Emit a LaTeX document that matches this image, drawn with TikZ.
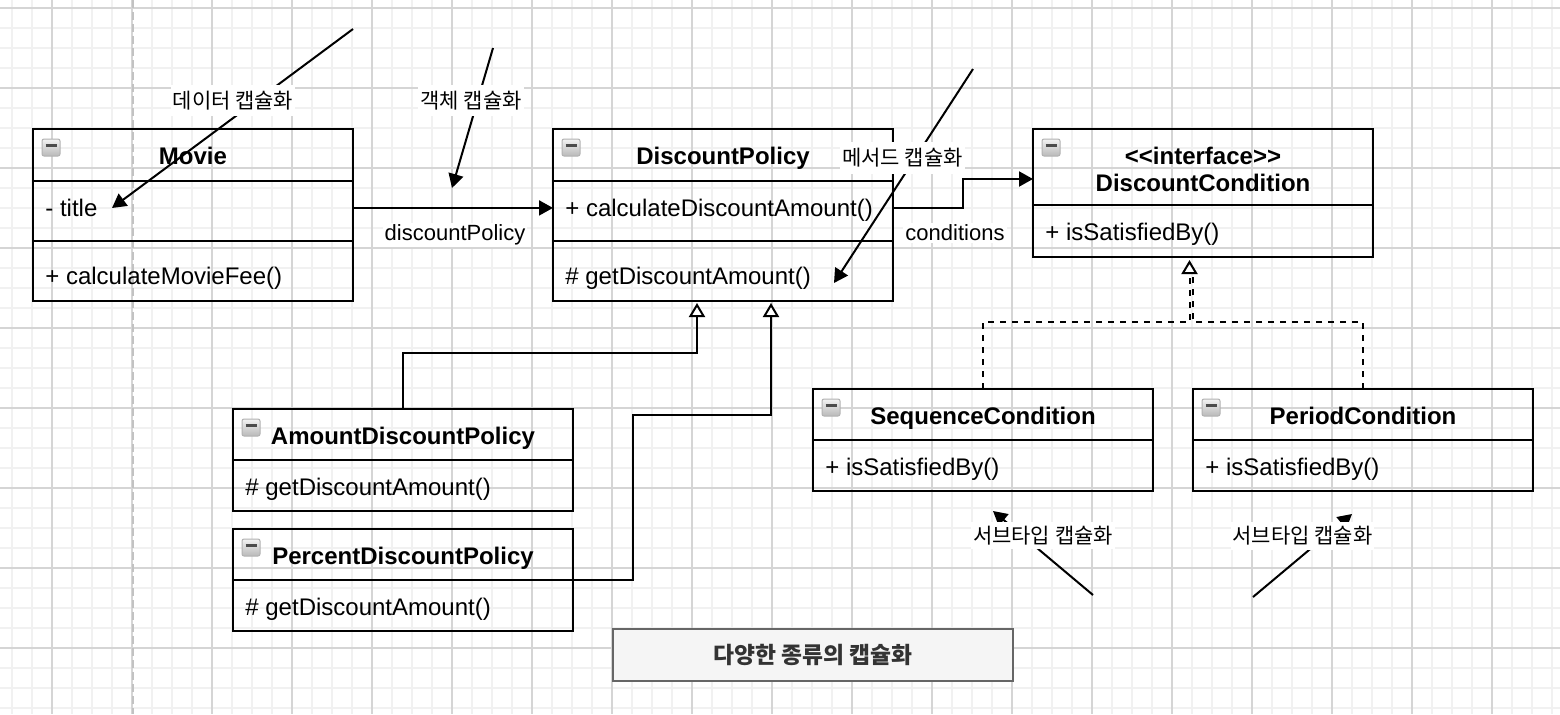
\documentclass[tikz,border=0pt]{standalone}
\usepackage{fontspec}
\setmainfont{Liberation Sans}
\newfontfamily\kr{Noto Sans CJK KR}
\usetikzlibrary{arrows.meta}
\definecolor{gminor}{HTML}{F1F1F1}
\definecolor{gmajor}{HTML}{D5D5D5}
\definecolor{pageline}{HTML}{C2C2C2}
\definecolor{notefill}{HTML}{F5F5F5}
\definecolor{notedraw}{HTML}{666666}
\definecolor{notetext}{HTML}{333333}
\tikzset{
  clsbox/.style={draw=black, line width=1pt, inner sep=0pt, outer sep=0pt, anchor=north west},
  septn/.style={line width=1pt},
  ttl/.style={font=\fontsize{12}{14}\selectfont\bfseries, inner sep=0pt, anchor=base},
  rowtxt/.style={font=\fontsize{12}{14}\selectfont, inner sep=0pt, anchor=base west},
  elbl/.style={font=\fontsize{11}{13}\selectfont, fill=white, inner sep=1pt, anchor=base},
  krlbl/.style={font=\kr\fontsize{10.5}{12}\selectfont, fill=white, inner xsep=1pt, inner ysep=3pt},
  assoc/.style={line width=1pt, -{Triangle[length=7pt,width=7.5pt]}},
  gen/.style={line width=1pt, -{Triangle[open,length=7pt,width=8pt,fill=white]}},
  real/.style={gen, dash pattern=on 3pt off 3pt},
  realplain/.style={line width=1pt, dash pattern=on 3pt off 3pt},
  clsicon/.pic={
    \shade[top color=gray!10, bottom color=gray!55, draw=gray!60, line width=0.5pt, rounded corners=1pt] (0,0) rectangle (18,17);
    \draw[line width=1.2pt, black!70] (3.5,6.5) -- (14.5,6.5);
  }
}
\begin{document}
\begin{tikzpicture}[x=0.5pt,y=-0.5pt]
\useasboundingbox (0,0) rectangle (1560,714);
\fill[white] (0,0) rectangle (1560,714);
% grid
\foreach \x in {12,32,...,1552} \draw[gminor, line width=1pt] (\x,0) -- (\x,714);
\foreach \y in {8,28,...,708} \draw[gminor, line width=1pt] (0,\y) -- (1560,\y);
\foreach \x in {52,132,...,1532} \draw[gmajor, line width=0.8pt] (\x,0) -- (\x,714);
\foreach \y in {8,88,...,648} \draw[gmajor, line width=0.8pt] (0,\y) -- (1560,\y);
\draw[pageline, line width=1pt, dash pattern=on 4pt off 2pt] (133,0) -- (133,714);

% class boxes
\node[clsbox, minimum width=160pt, minimum height=86pt] (movie) at (33,129) {};
\draw[septn] (33,181) -- (353,181);
\draw[septn] (33,241) -- (353,241);
\pic at (42,139) {clsicon};
\node[ttl] (movieT) at (193,164) {Movie};
\node[rowtxt] (movieA) at (45,216.5) {- title};
\node[rowtxt] (movieM) at (45,284.7) {+ calculateMovieFee()};

\node[clsbox, minimum width=170pt, minimum height=86pt] (dp) at (553,129) {};
\draw[septn] (553,181) -- (893,181);
\draw[septn] (553,241) -- (893,241);
\pic at (562,139) {clsicon};
\node[ttl] (dpT) at (723,164.5) {DiscountPolicy};
\node[rowtxt] (dpA) at (565,216.5) {+ calculateDiscountAmount()};
\node[rowtxt] (dpM) at (565,284.7) {\# getDiscountAmount()};

\node[clsbox, minimum width=170pt, minimum height=64pt] (dc) at (1033,129) {};
\draw[septn] (1033,205) -- (1373,205);
\pic at (1042,139) {clsicon};
\node[ttl] (dcT1) at (1203,164.3) {<\kern0pt<interface>\kern0pt>};
\node[ttl] (dcT2) at (1203,191.7) {DiscountCondition};
\node[rowtxt] (dcA) at (1045,240.5) {+ isSatisfiedBy()};

\node[clsbox, minimum width=170pt, minimum height=51pt] (seq) at (813,389) {};
\draw[septn] (813,440) -- (1153,440);
\pic at (822,399) {clsicon};
\node[ttl] (seqT) at (983,424) {SequenceCondition};
\node[rowtxt] (seqA) at (825,475) {+ isSatisfiedBy()};

\node[clsbox, minimum width=170pt, minimum height=51pt] (per) at (1193,389) {};
\draw[septn] (1193,440) -- (1533,440);
\pic at (1202,399) {clsicon};
\node[ttl] (perT) at (1363,424) {PeriodCondition};
\node[rowtxt] (perA) at (1205,475) {+ isSatisfiedBy()};

\node[clsbox, minimum width=170pt, minimum height=51pt] (amt) at (233,409) {};
\draw[septn] (233,460) -- (573,460);
\pic at (242,419) {clsicon};
\node[ttl] (amtT) at (403,444) {AmountDiscountPolicy};
\node[rowtxt] (amtM) at (245,495) {\# getDiscountAmount()};

\node[clsbox, minimum width=170pt, minimum height=51pt] (pct) at (233,529) {};
\draw[septn] (233,580) -- (573,580);
\pic at (242,539) {clsicon};
\node[ttl] (pctT) at (403,564) {PercentDiscountPolicy};
\node[rowtxt] (pctM) at (245,615) {\# getDiscountAmount()};

% note box
\node[draw=notedraw, fill=notefill, line width=1pt, minimum width=200pt, minimum height=26pt, inner sep=0pt, text=notetext, font=\kr\bfseries\fontsize{11.4}{13}\selectfont] (note) at (813,655) {다양한 종류의 캡슐화};

% associations
\draw[assoc] (movie.east |- movieA) -- (dp.west |- movieA);
\coordinate (c1) at (963,179);
\draw[assoc] (dp.east |- movieA) -| (c1) -- (dc.west |- c1);

% generalizations
\coordinate (g1) at (697,353);
\draw[gen, shorten >=1pt] (amt.north) |- (g1) -- (g1 |- dp.south);
\coordinate (g2) at (633,415);
\coordinate (g3) at (771,415);
\draw[gen, shorten >=1pt] (pct.east) -| (g2) -- (g3) -- (g3 |- dp.south);

% realizations
\coordinate (rl) at (1189.5,322);
\coordinate (rr) at (1193,322);
\coordinate (rrtop) at (1193,275);
\draw[realplain] (per.north) |- (rr) -- (rrtop);
\draw[real, shorten >=1.5pt] (seq.north) |- (rl) -- (rl |- dc.south);

% annotation arrows
\coordinate (a1s) at (353,29);  \coordinate (a1e) at (112,208);
\coordinate (a2s) at (493,48);  \coordinate (a2e) at (452,188);
\coordinate (a3s) at (973,69);  \coordinate (a3e) at (834,283);
\coordinate (a4s) at (1093,595); \coordinate (a4e) at (993,511);
\coordinate (a5s) at (1253,597); \coordinate (a5e) at (1352,514);
\draw[assoc] (a1s) -- (a1e);
\draw[assoc] (a2s) -- (a2e);
\draw[assoc] (a3s) -- (a3e);
\draw[assoc] (a4s) -- (a4e);
\draw[assoc] (a5s) -- (a5e);

% labels
\node[elbl] (lDP) at (455,240.5) {discountPolicy};
\node[elbl] (lC) at (955,240.5) {conditions};
\node[krlbl] (lab1) at (233,100.5) {데이터 캡슐화};
\node[krlbl] (lab2) at (471,100.5) {객체 캡슐화};
\node[krlbl] (lab3) at (902.5,158) {메서드 캡슐화};
\node[krlbl, inner ysep=2pt] (lab4) at (1043,535.5) {서브타입 캡슐화};
\node[krlbl, inner ysep=2pt] (lab5) at (1302.5,536) {서브타입 캡슐화};
\end{tikzpicture}
\end{document}
